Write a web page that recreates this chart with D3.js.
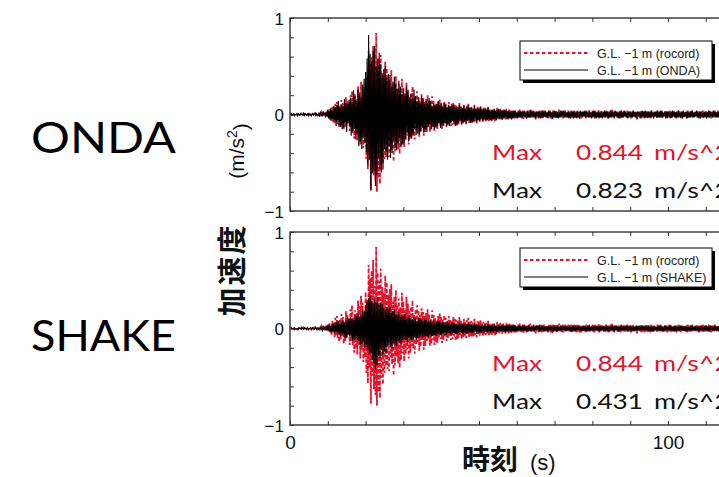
<!DOCTYPE html>
<html>
<head>
<meta charset="utf-8">
<script src="https://cdn.jsdelivr.net/npm/d3@7"></script>
<style>
  body { margin: 0; background: #fff; }
  svg { display: block; }
</style>
</head>
<body>
<svg id="chart" width="719" height="477"></svg>
<script>
// Sampling interval of the acceleration traces (s)
const dt = 0.2;

// Acceleration at G.L. -1 m, in units of 0.01 m/s^2 (10 samples = 2 s per row)
const recordAcc = [
  0,1,0,-1,1,0,-1,0,1,0,
  -1,0,1,-1,0,1,0,-1,1,0,
  0,-1,1,0,-1,1,0,0,-1,1,
  -1,0,1,-1,1,0,-1,1,0,-1,
  1,-1,2,-1,1,-2,2,-1,3,-2,
  4,-3,6,-5,3,-7,8,-4,6,-9,
  11,-7,13,-10,6,-14,9,-12,15,-8,
  12,-16,7,-13,18,-10,14,-6,11,-17,
  20,-14,24,-18,11,-25,19,-21,16,-27,
  29,-17,23,-31,34,-22,27,-35,19,-30,
  38,-46,30,-57,66,-41,52,-78,60,-49,
  71,-63,44,-69,84.4,-80,58,-66,49,-72,
  62,-51,43,-58,37,-46,55,-39,48,-42,
  35,-44,41,-30,46,-37,28,-49,33,-38,
  40,-29,25,-36,31,-41,22,-33,37,-26,
  28,-34,19,-27,33,-22,26,-31,18,-25,
  23,-18,29,-21,15,-26,20,-17,24,-14,
  19,-23,14,-19,21,-12,17,-22,13,-18,
  16,-13,20,-11,15,-18,10,-16,19,-12,
  14,-17,11,-14,9,-15,13,-10,16,-11,
  12,-15,9,-12,14,-8,11,-13,8,-10,
  13,-9,10,-12,7,-11,12,-8,10,-13,
  9,-11,8,-10,12,-7,9,-11,6,-9,
  10,-8,7,-10,9,-6,11,-9,7,-8,
  8,-9,6,-8,10,-7,5,-9,8,-6,
  7,-8,9,-5,6,-8,7,-6,5,-7,
  6,-5,8,-7,5,-6,4,-7,6,-5,
  5,-7,4,-6,7,-4,5,-5,6,-4,
  4,-6,5,-4,3,-5,6,-4,4,-5,
  5,-3,4,-5,4,-3,5,-4,3,-4,
  3,-4,4,-3,5,-4,3,-3,4,-5,
  4,-3,3,-4,3,-3,4,-4,5,-3,
  3,-4,4,-3,3,-5,4,-3,3,-4,
  4,-3,5,-4,3,-3,4,-3,3,-4,
  3,-4,3,-3,4,-4,3,-5,4,-3,
  3,-3,4,-4,3,-3,5,-3,3,-4,
  4,-4,3,-3,4,-3,3,-4,4,-3,
  3,-3,4,-5,3,-3,4,-3,3,-4,
  5,-3,3,-4,3,-4,3,-3,4,-3,
  3,-4,4,-3,3,-3,4,-4,3,-3,
  4,-3,3,-4,4,-3,3,-3,5,-4,
  3,-3,4,-3,3,-4,3,-3,4,-3,
  3,-4,3,-3,4,-3,5,-3,3,-4,
  4,-3,3,-4,3,-3,3,-4,4,-3,
  3,-3,4,-3,3,-4,4,-3,3,-3,
  3,-4,3,-3,4,-3,3,-4,3,-5,
  4,-3,3,-3,4,-4,3,-3,3,-4,
  3,-3,4,-4,3,-3,3,-4,4,-3,
  3,-4,3,-3,3,-4,4,-3,3,-3,
  4,-3,3,-4,3,-3,4,-3,3,-4,
  3,-3,4,-3,3,-4,3,-3,4,-3,
  3,-4,3,-3,4,-3,3,-4,3,-3,
  4,-3,3,-3,3,-4,4,-3,3,-3,
  3,-3,4,-4,3,-3,3,-3,4,-3,
  3,-4,3,-3,3,-3,4,-4,3,-3,
  4,-3,3,-3,4,-3,3,-4,3,-3,
  3,-3,4,-3,3,-4,3,-3,3,-4,
  3,-3,3,-4,3,-3,4,-3,3,-3
];

const ondaAcc = [
  0,0,1,-1,0,1,-1,0,0,1,
  -1,1,0,-1,1,0,0,-1,1,-1,
  1,0,-1,0,1,-1,1,0,-1,0,
  1,-1,0,1,-1,1,0,-1,1,-1,
  2,-1,1,-2,3,-1,2,-3,2,-2,
  5,-4,3,-6,7,-5,4,-8,9,-6,
  8,-12,10,-6,14,-11,7,-13,10,-15,
  9,-14,16,-8,12,-18,11,-9,15,-12,
  17,-22,13,-19,25,-15,21,-26,14,-20,
  26,-33,21,-28,18,-36,31,-24,37,-29,
  44,-39,58,-52,82.3,-47,63,-79,55,-61,
  66,-58,71,-74,50,-63,58,-45,64,-56,
  52,-60,41,-53,47,-36,50,-44,38,-47,
  42,-33,36,-45,29,-40,34,-27,39,-35,
  31,-37,27,-30,35,-24,29,-34,21,-31,
  26,-30,22,-25,29,-19,24,-28,17,-23,
  21,-25,17,-22,26,-15,19,-21,14,-20,
  17,-21,12,-17,19,-14,16,-19,11,-15,
  14,-18,12,-13,17,-10,14,-15,9,-13,
  12,-15,9,-13,11,-12,14,-9,10,-14,
  11,-13,8,-11,12,-9,10,-12,7,-11,
  10,-12,8,-9,11,-7,10,-10,8,-12,
  8,-10,7,-9,10,-6,8,-10,7,-8,
  9,-7,6,-9,8,-7,10,-6,7,-9,
  7,-8,6,-7,9,-5,6,-8,7,-6,
  6,-7,8,-5,5,-7,6,-5,7,-6,
  5,-6,7,-5,4,-6,5,-6,4,-5,
  6,-5,4,-6,5,-4,6,-4,5,-5,
  4,-5,4,-4,5,-3,4,-5,3,-4,
  4,-4,3,-5,3,-4,4,-3,4,-3,
  2,-4,3,-3,4,-2,3,-4,3,-2,
  3,-3,2,-4,4,-3,2,-3,4,-3,
  4,-2,3,-3,2,-4,3,-2,3,-3,
  3,-4,2,-3,4,-3,3,-2,4,-3,
  2,-3,4,-2,3,-3,2,-4,3,-3,
  4,-3,3,-3,2,-4,3,-3,4,-2,
  3,-2,4,-3,3,-3,2,-3,3,-4,
  2,-4,3,-2,3,-4,3,-3,2,-3,
  3,-3,2,-4,4,-2,3,-3,3,-2,
  4,-3,3,-2,2,-3,4,-3,2,-4,
  3,-2,4,-3,3,-4,2,-3,3,-3,
  2,-3,3,-4,3,-2,4,-3,3,-2,
  3,-4,2,-3,4,-3,3,-2,2,-3,
  4,-2,3,-3,2,-4,3,-3,4,-3,
  2,-3,4,-2,3,-3,2,-4,3,-2,
  3,-3,2,-3,4,-2,3,-3,2,-4,
  3,-2,3,-4,2,-3,4,-2,3,-3,
  4,-3,2,-3,3,-3,2,-3,4,-2,
  2,-4,3,-2,3,-3,4,-3,2,-3,
  3,-3,4,-3,2,-2,3,-4,3,-3,
  3,-2,2,-4,3,-3,4,-2,3,-3,
  2,-3,3,-3,4,-2,2,-3,3,-4,
  4,-3,2,-2,3,-4,3,-3,2,-3,
  3,-2,4,-3,2,-3,3,-2,4,-3,
  2,-3,3,-4,3,-2,2,-3,3,-3,
  3,-4,2,-3,4,-3,3,-2,2,-3,
  4,-2,3,-3,2,-3,4,-3,3,-2,
  2,-3,3,-2,3,-4,2,-3,3,-3
];

const shakeAcc = [
  0,1,0,0,-1,0,1,0,-1,0,
  0,-1,1,0,0,-1,1,0,-1,1,
  0,0,-1,1,0,-1,0,1,0,-1,
  1,0,-1,0,1,-1,0,1,-1,0,
  1,-1,1,-2,1,-1,2,-2,1,-2,
  3,-2,4,-3,2,-4,5,-3,4,-5,
  6,-4,7,-5,8,-6,5,-8,7,-6,
  9,-7,6,-10,8,-9,11,-7,10,-8,
  12,-9,10,-13,9,-12,14,-10,13,-11,
  15,-13,12,-17,14,-16,19,-14,17,-20,
  24,-19,28,-22,31,-27,34,-25,29,-33,
  26,-36,30,-43.1,27,-38,33,-29,24,-31,
  27,-22,25,-28,21,-24,19,-26,22,-18,
  20,-17,23,-19,16,-21,18,-15,19,-17,
  15,-18,14,-13,17,-15,12,-16,14,-12,
  13,-11,15,-12,10,-14,12,-10,13,-11,
  11,-12,9,-11,12,-9,10,-12,8,-10,
  10,-9,11,-8,9,-10,8,-9,10,-8,
  9,-8,7,-9,8,-7,9,-8,6,-8,
  8,-7,6,-8,7,-6,8,-6,7,-7,
  6,-7,7,-5,6,-7,5,-6,7,-5,
  6,-5,5,-6,7,-5,6,-5,5,-6,
  5,-6,4,-5,6,-4,5,-5,4,-6,
  5,-4,5,-5,4,-5,6,-4,5,-4,
  4,-5,4,-4,5,-3,4,-5,4,-4,
  4,-4,3,-5,4,-4,3,-4,5,-3,
  3,-4,4,-3,3,-4,4,-3,3,-4,
  4,-3,3,-4,3,-3,4,-3,3,-3,
  3,-3,4,-3,3,-4,3,-3,4,-3,
  3,-4,3,-3,3,-3,4,-3,3,-3,
  2,-3,3,-2,3,-2,2,-3,3,-2,
  3,-2,2,-3,2,-3,3,-2,2,-3,
  2,-2,3,-3,2,-2,3,-2,3,-2,
  3,-3,2,-2,3,-3,2,-3,2,-2,
  2,-3,3,-2,2,-2,3,-3,2,-3,
  3,-2,2,-3,3,-2,2,-2,3,-3,
  2,-2,3,-2,2,-3,3,-2,2,-2,
  3,-3,2,-3,3,-2,2,-3,3,-2,
  2,-2,3,-2,2,-3,2,-2,3,-3,
  3,-2,2,-3,3,-2,3,-3,2,-2,
  2,-3,3,-2,2,-2,3,-2,2,-3,
  3,-2,2,-2,3,-3,2,-3,3,-2,
  2,-3,2,-3,2,-2,3,-2,2,-3,
  3,-2,3,-2,2,-3,2,-2,3,-2,
  2,-2,2,-3,3,-2,3,-3,2,-2,
  3,-3,2,-2,2,-3,2,-2,3,-3,
  2,-2,3,-3,2,-2,3,-2,2,-2,
  3,-2,2,-2,3,-3,2,-3,2,-3,
  2,-3,3,-2,2,-2,2,-2,3,-2,
  3,-2,2,-3,2,-3,3,-2,2,-2,
  2,-2,3,-2,3,-2,2,-3,2,-3,
  3,-3,2,-2,2,-2,3,-2,3,-2,
  2,-2,2,-3,3,-3,2,-2,2,-3,
  3,-2,3,-2,2,-2,3,-3,2,-2,
  2,-3,2,-2,3,-2,2,-2,3,-3,
  3,-2,2,-3,2,-3,3,-2,2,-2,
  2,-2,3,-2,2,-2,2,-3,3,-2,
  3,-3,2,-2,3,-2,3,-2,2,-3
];

// Axis ticks
const xTicks = [0, 10, 20, 30, 40, 50, 60, 70, 80, 90, 100, 110, 120];
const xTickLabels = [0, 100];
const yTicks = [-1, -0.8, -0.6, -0.4, -0.2, 0, 0.2, 0.4, 0.6, 0.8, 1];
const yTickLabels = [-1, 0, 1];

// Panel names and legend entries
const panelNames = ["ONDA", "SHAKE"];
const recordLegend = "G.L. \u22121 m (rocord)";
const simLegends = ["G.L. \u22121 m (ONDA)", "G.L. \u22121 m (SHAKE)"];
const simSeries = [ondaAcc, shakeAcc];

const RED = "#e3142d";
const svg = d3.select("#chart");

const x = d3.scaleLinear().domain([0, 120]).range([290, 743.6]);

// Panel layout
const layout = [
  { top: 18,  bottom: 211, nameY: 153, legendY: 41,  maxY: 160 },
  { top: 232, bottom: 425, nameY: 351, legendY: 248, maxY: 371 }
];

const fmtMax = d3.format(".3f");
const peak = arr => d3.max(arr, v => Math.abs(v)) / 100;

layout.forEach((L, p) => {
  const y = d3.scaleLinear().domain([-1, 1]).range([L.bottom, L.top]);
  const g = svg.append("g");

  const clipId = "clip" + p;
  svg.append("clipPath").attr("id", clipId)
    .append("rect").attr("x", x(0)).attr("y", L.top)
    .attr("width", x(120) - x(0)).attr("height", L.bottom - L.top);

  const line = d3.line()
    .x((d, i) => x(i * dt))
    .y(d => y(d / 100));

  const traces = g.append("g").attr("clip-path", `url(#${clipId})`);
  // recorded motion (red dashed) underneath, computed motion (black) on top
  traces.append("path").datum(recordAcc)
    .attr("d", line).attr("fill", "none")
    .attr("stroke", RED).attr("stroke-width", 1.8)
    .attr("stroke-dasharray", "3.5,2.5");
  traces.append("path").datum(simSeries[p])
    .attr("d", line).attr("fill", "none")
    .attr("stroke", "#000").attr("stroke-width", 1.1);

  // frame with inward ticks
  g.append("rect")
    .attr("x", x(0)).attr("y", L.top)
    .attr("width", x(120) - x(0)).attr("height", L.bottom - L.top)
    .attr("fill", "none").attr("stroke", "#333").attr("stroke-width", 1.4);

  const axB = g.append("g").attr("transform", `translate(0,${L.bottom})`)
    .call(d3.axisBottom(x).tickValues(xTicks).tickSize(-4).tickPadding(10)
      .tickFormat(d => (p === 1 && xTickLabels.includes(d)) ? String(d) : ""));
  const axT = g.append("g").attr("transform", `translate(0,${L.top})`)
    .call(d3.axisTop(x).tickValues(xTicks).tickSize(-4).tickFormat(""));
  const axL = g.append("g").attr("transform", `translate(${x(0)},0)`)
    .call(d3.axisLeft(y).tickValues(yTicks).tickSize(-4).tickPadding(6)
      .tickFormat(d => yTickLabels.includes(d) ? (d < 0 ? "\u2212" + Math.abs(d) : String(d)) : ""));
  [axB, axT, axL].forEach(a => {
    a.select(".domain").remove();
    a.selectAll(".tick line").attr("stroke", "#333").attr("stroke-width", 1);
    a.selectAll(".tick text").attr("fill", "#111")
      .style("font-family", "'Liberation Sans', Arial, sans-serif");
  });
  axL.selectAll(".tick text").style("font-size", "17px").attr("dy", "0.36em");
  axB.selectAll(".tick text").style("font-size", "19px").attr("dy", "0.75em");

  // legend box with drop shadow
  const lx = 520, lw = 192, lh = 39;
  g.append("rect").attr("x", lx + 3).attr("y", L.legendY + 3)
    .attr("width", lw).attr("height", lh).attr("fill", "#000");
  g.append("rect").attr("x", lx).attr("y", L.legendY)
    .attr("width", lw).attr("height", lh)
    .attr("fill", "#fff").attr("stroke", "#000").attr("stroke-width", 1);
  const legendRows = [
    { label: recordLegend, color: RED, dash: "3.5,2.5", w: 1.8 },
    { label: simLegends[p], color: "#000", dash: null, w: 1 }
  ];
  legendRows.forEach((r, k) => {
    const ly = L.legendY + 12 + k * 17;
    g.append("line").attr("x1", lx + 4).attr("x2", lx + 68)
      .attr("y1", ly).attr("y2", ly)
      .attr("stroke", r.color).attr("stroke-width", r.w)
      .attr("stroke-dasharray", r.dash);
    g.append("text").attr("x", lx + 77).attr("y", ly + 4.5)
      .attr("fill", "#222")
      .style("font-family", "'Liberation Sans', Arial, sans-serif")
      .style("font-size", "12.5px")
      .text(r.label);
  });

  // peak values
  const maxRows = [
    { v: fmtMax(peak(recordAcc)), color: RED, y: L.maxY },
    { v: fmtMax(peak(simSeries[p])), color: "#111", y: L.maxY + 38 }
  ];
  maxRows.forEach(r => {
    const t = g.append("g").attr("fill", r.color)
      .style("font-family", "Lato, sans-serif").style("font-size", "21px");
    t.append("text").attr("x", 492).attr("y", r.y)
      .attr("textLength", 50).attr("lengthAdjust", "spacingAndGlyphs").text("Max");
    t.append("text").attr("x", 576).attr("y", r.y)
      .attr("textLength", 67).attr("lengthAdjust", "spacingAndGlyphs").text(r.v);
    t.append("text").attr("x", 654).attr("y", r.y)
      .attr("textLength", 76).attr("lengthAdjust", "spacingAndGlyphs").text("m/s^2");
  });

  // method name
  svg.append("text").attr("x", 31).attr("y", L.nameY)
    .attr("textLength", 145).attr("lengthAdjust", "spacingAndGlyphs")
    .attr("fill", "#000")
    .style("font-family", "Lato, sans-serif").style("font-size", "43px")
    .text(panelNames[p]);
});

// y-axis titles
svg.append("text")
  .attr("transform", "translate(244,151) rotate(-90)")
  .attr("text-anchor", "middle")
  .attr("fill", "#111")
  .style("font-family", "'Liberation Sans', Arial, sans-serif")
  .style("font-size", "21px")
  .call(t => {
    t.append("tspan").text("(m/s");
    t.append("tspan").attr("dy", "-0.5em").style("font-size", "14px").text("2");
    t.append("tspan").attr("dy", "0.5em").text(")");
  });
svg.append("text")
  .attr("transform", "translate(243,270) rotate(-90)")
  .attr("text-anchor", "middle")
  .attr("fill", "#111")
  .style("font-family", "'Noto Sans CJK JP', sans-serif")
  .style("font-weight", "bold")
  .style("font-size", "29px")
  .style("letter-spacing", "2px")
  .text("加速度");

// x-axis title
const xt = svg.append("text").attr("x", 462).attr("y", 470).attr("fill", "#111");
xt.append("tspan")
  .style("font-family", "'Noto Sans CJK JP', sans-serif")
  .style("font-weight", "bold").style("font-size", "28px")
  .text("時刻");
xt.append("tspan").attr("dx", 12)
  .style("font-family", "'Liberation Sans', Arial, sans-serif")
  .style("font-size", "22px")
  .text("(s)");
</script>
</body>
</html>
